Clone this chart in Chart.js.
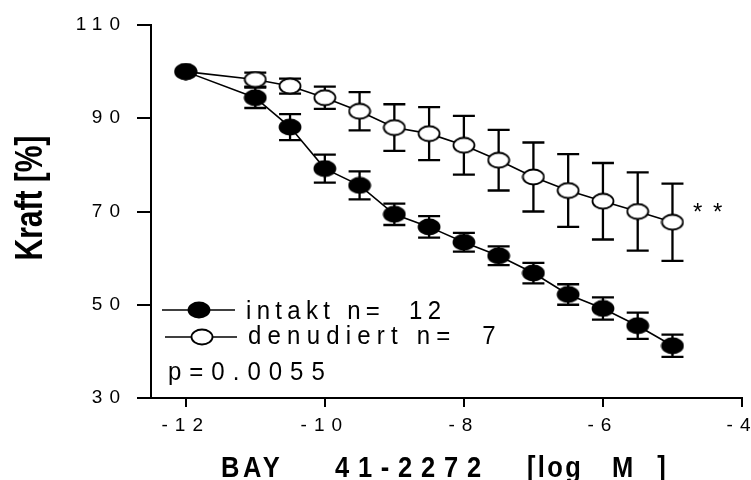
<!DOCTYPE html>
<html>
<head>
<meta charset="utf-8">
<script src="https://cdn.jsdelivr.net/npm/chart.js@4.4.1/dist/chart.umd.min.js"></script>
<style>
  html, body { margin: 0; padding: 0; background: #fff; }
  #wrap { width: 751px; height: 480px; position: relative; }
</style>
</head>
<body>
<div id="wrap"><canvas id="chart"></canvas></div>
<script>
// log concentration of BAY 41-2272
const concentrations = [-12, -11, -10.5, -10, -9.5, -9, -8.5, -8, -7.5, -7, -6.5, -6, -5.5, -5];
// force in % (mean) and SEM
const intaktMean = [100, 94.4, 88.1, 79.2, 75.6, 69.4, 66.7, 63.4, 60.5, 56.8, 52.2, 49.2, 45.5, 41.2];
const intaktSem = [0, 2.2, 2.8, 3.0, 3.0, 2.3, 2.3, 2.0, 2.0, 2.2, 2.2, 2.4, 2.8, 2.4];
const denudMean = [100, 98.3, 96.9, 94.4, 91.5, 88.0, 86.7, 84.2, 81.0, 77.4, 74.5, 72.2, 70.0, 67.7];
const denudSem = [0, 1.5, 1.6, 2.4, 4.1, 5.0, 5.7, 6.3, 6.5, 7.4, 7.8, 8.2, 8.4, 8.3];

const xTicks = [-12, -10, -8, -6, -4];
const yTicks = [30, 50, 70, 90, 110];
const legendLabels = ["intakt n=  12", "denudiert n=  7"];
const pValueText = "p=0.0055";
const starText = "* *";
// x title pieces, spaced unevenly like the original
const xTitleParts = [
    { text: "BAY", x: 221, ls: 4.2 },
    { text: "41-2272", x: 335, ls: 10.3 },
    { text: "[log", x: 527, ls: 2.8 },
    { text: "M ]", x: 612, ls: 10 }
];

const FONT = '"Liberation Sans", Arial, sans-serif';

// ellipse markers (the figure's circles are a bit squashed)
function makeMarker(filled) {
    const c = document.createElement("canvas");
    c.width = 24;
    c.height = 18;
    const g = c.getContext("2d");
    g.beginPath();
    g.ellipse(12, 9, 10.5, 7.5, 0, 0, Math.PI * 2);
    g.fillStyle = filled ? "#000" : "#fff";
    g.fill();
    g.lineWidth = 1.8;
    g.strokeStyle = "#000";
    g.stroke();
    return c;
}
const filledMarker = makeMarker(true);
const openMarker = makeMarker(false);

function toPoints(means) {
    return concentrations.map((x, i) => ({ x: x, y: means[i] }));
}

function drawText(ctx, text, x, y, o) {
    ctx.save();
    ctx.translate(x, y);
    if (o.rotate) ctx.rotate(o.rotate);
    ctx.scale(o.sx || 1, o.sy || 1);
    ctx.font = o.font;
    ctx.letterSpacing = (o.ls || 0) + "px";
    ctx.textAlign = o.align || "left";
    ctx.textBaseline = "alphabetic";
    ctx.fillStyle = "#000";
    ctx.fillText(text, 0, 0);
    ctx.restore();
}

// error bars with caps, drawn under the markers
const errorBars = {
    id: "errorBars",
    beforeDatasetsDraw(chart) {
        const ctx = chart.ctx;
        const xs = chart.scales.x;
        const ys = chart.scales.y;
        const sets = [[intaktMean, intaktSem], [denudMean, denudSem]];
        ctx.save();
        ctx.strokeStyle = "#000";
        ctx.lineWidth = 2.3;
        sets.forEach(([m, s]) => {
            concentrations.forEach((c, i) => {
                if (!s[i]) return;
                const px = xs.getPixelForValue(c);
                const top = ys.getPixelForValue(m[i] + s[i]);
                const bot = ys.getPixelForValue(m[i] - s[i]);
                ctx.beginPath();
                ctx.moveTo(px, top);
                ctx.lineTo(px, bot);
                ctx.moveTo(px - 11, top);
                ctx.lineTo(px + 11, top);
                ctx.moveTo(px - 11, bot);
                ctx.lineTo(px + 11, bot);
                ctx.stroke();
            });
        });
        ctx.restore();
    }
};

const tickSpacing = {
    id: "tickSpacing",
    beforeDraw(chart) {
        chart.ctx.letterSpacing = "7px";
    },
    beforeDatasetsDraw(chart) {
        chart.ctx.letterSpacing = "0px";
    }
};

const annotations = {
    id: "annotations",
    afterDraw(chart) {
        const ctx = chart.ctx;
        ctx.save();
        ctx.letterSpacing = "0px";

        // legend
        const rows = [
            { marker: filledMarker, x0: 162, x1: 235, mx: 199, y: 310, tx: 246, ty: 319, ls: 5.3 },
            { marker: openMarker, x0: 165, x1: 237, mx: 202, y: 337, tx: 248, ty: 344, ls: 6.2 }
        ];
        rows.forEach((r, i) => {
            ctx.strokeStyle = "#000";
            ctx.lineWidth = 1.6;
            ctx.beginPath();
            ctx.moveTo(r.x0, r.y);
            ctx.lineTo(r.x1, r.y);
            ctx.stroke();
            ctx.drawImage(r.marker, r.mx - 12, r.y - 9);
            drawText(ctx, legendLabels[i], r.tx, r.ty, { font: "24px " + FONT, ls: r.ls, sy: 1.08 });
        });

        drawText(ctx, pValueText, 168, 380, { font: "24px " + FONT, ls: 8, sy: 1.05 });
        drawText(ctx, starText, 693, 220, { font: "24px " + FONT, ls: 2 });

        // axis titles
        xTitleParts.forEach(p => {
            drawText(ctx, p.text, p.x, 477, { font: "bold 30px " + FONT, ls: p.ls, sx: 0.85 });
        });
        drawText(ctx, "Kraft [%]", 42, 198, { font: "bold 30px " + FONT, rotate: -Math.PI / 2, align: "center", sy: 1.32 });
        ctx.restore();
    }
};

new Chart(document.getElementById("chart"), {
    type: "line",
    data: {
        datasets: [
            {
                label: "intakt",
                data: toPoints(intaktMean),
                borderColor: "#000",
                borderWidth: 1.6,
                pointStyle: filledMarker,
                tension: 0,
                order: 0
            },
            {
                label: "denudiert",
                data: toPoints(denudMean),
                borderColor: "#000",
                borderWidth: 1.6,
                pointStyle: openMarker,
                tension: 0,
                order: 1
            }
        ]
    },
    options: {
        responsive: true,
        maintainAspectRatio: false,
        animation: false,
        layout: { padding: { top: 25, right: 9, left: 0, bottom: 0 } },
        plugins: {
            legend: { display: false },
            tooltip: { enabled: false }
        },
        scales: {
            x: {
                type: "linear",
                min: -12.5,
                max: -4,
                afterBuildTicks: (scale) => { scale.ticks = xTicks.map(v => ({ value: v })); },
                afterFit: (scale) => {
                    scale.height = 82;
                    scale.paddingLeft = 0;
                    scale.paddingRight = 0;
                },
                border: { display: true, color: "#000", width: 2 },
                grid: { drawOnChartArea: false, tickLength: 9, color: "#000", lineWidth: 2 },
                ticks: {
                    color: "#000",
                    font: { family: FONT, size: 19 },
                    padding: 7,
                    maxRotation: 0
                }
            },
            y: {
                min: 30,
                max: 110,
                afterBuildTicks: (scale) => { scale.ticks = yTicks.map(v => ({ value: v })); },
                afterFit: (scale) => {
                    scale.width = 151;
                    scale.paddingTop = 0;
                    scale.paddingBottom = 0;
                },
                border: { display: true, color: "#000", width: 2 },
                grid: { drawOnChartArea: false, tickLength: 14, color: "#000", lineWidth: 2 },
                ticks: {
                    color: "#000",
                    font: { family: FONT, size: 19 },
                    padding: 10
                }
            }
        }
    },
    plugins: [tickSpacing, errorBars, annotations]
});
</script>
</body>
</html>
